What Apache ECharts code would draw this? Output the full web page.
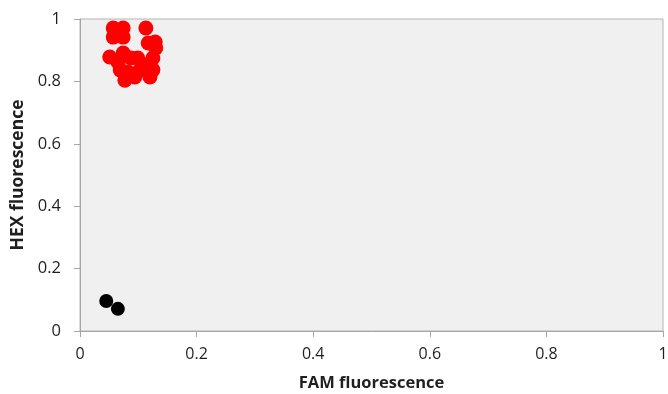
<!DOCTYPE html>
<html><head><meta charset="utf-8">
<script src="https://cdn.jsdelivr.net/npm/echarts@6/dist/echarts.min.js"></script>
<style>html,body{margin:0;padding:0;background:#fff}#c{width:668px;height:394px}</style>
</head><body><div id="c"></div>
<script>
const xTicks = [0, 0.2, 0.4, 0.6, 0.8, 1];
const yTicks = [0, 0.2, 0.4, 0.6, 0.8, 1];
const hexPositiveFAM = [0.057,0.074,0.057,0.074,0.113,0.117,0.129,0.130,0.051,0.074,0.065,0.087,0.099,0.113,0.125,0.125,0.082,0.077,0.094,0.120,0.103,0.069];
const hexPositiveHEX = [0.971,0.971,0.942,0.942,0.971,0.923,0.926,0.907,0.878,0.891,0.862,0.875,0.875,0.853,0.875,0.837,0.830,0.804,0.814,0.814,0.837,0.837];
const negativeFAM = [0.045, 0.065];
const negativeHEX = [0.096, 0.071];

const zip = (a,b) => a.map((v,i)=>[v,b[i]]);
const font = '"Open Sans", "Liberation Sans", sans-serif';
const chart = echarts.init(document.getElementById('c'));
chart.setOption({
  animation:false,
  grid:{left:80,right:5,top:19,bottom:63,outerBoundsMode:'none',containLabel:false,show:true,backgroundColor:'#f0f0f0',borderColor:'#b4b4b4',borderWidth:1},
  xAxis:{type:'value',min:0,max:1,interval:0.2,
    name:'FAM fluorescence',nameLocation:'middle',nameGap:44,
    nameTextStyle:{fontFamily:font,fontSize:16.5,fontWeight:'bold',color:'#1f1f1f'},
    axisLine:{show:true,lineStyle:{color:'#a6a6a6'}},
    axisTick:{show:true,length:6,lineStyle:{color:'#a6a6a6'}},
    axisLabel:{fontFamily:font,fontSize:16,color:'#1f1f1f',margin:15,formatter:v=>String(v)},
    splitLine:{show:false}},
  yAxis:{type:'value',min:0,max:1,interval:0.2,
    name:'HEX fluorescence',nameLocation:'middle',nameGap:52,
    nameTextStyle:{fontFamily:font,fontSize:17.5,fontWeight:'bold',color:'#1f1f1f'},
    axisLine:{show:true,lineStyle:{color:'#a6a6a6'}},
    axisTick:{show:true,length:6,lineStyle:{color:'#a6a6a6'}},
    axisLabel:{fontFamily:font,fontSize:16.5,color:'#1f1f1f',margin:19,formatter:v=>String(v)},
    splitLine:{show:false}},
  series:[
    {type:'scatter',data:zip(hexPositiveFAM,hexPositiveHEX),symbolSize:15,itemStyle:{color:'#ff0000',opacity:1}},
    {type:'scatter',data:zip(negativeFAM,negativeHEX),symbolSize:14,itemStyle:{color:'#000000',opacity:1}}
  ]
});
</script></body></html>
